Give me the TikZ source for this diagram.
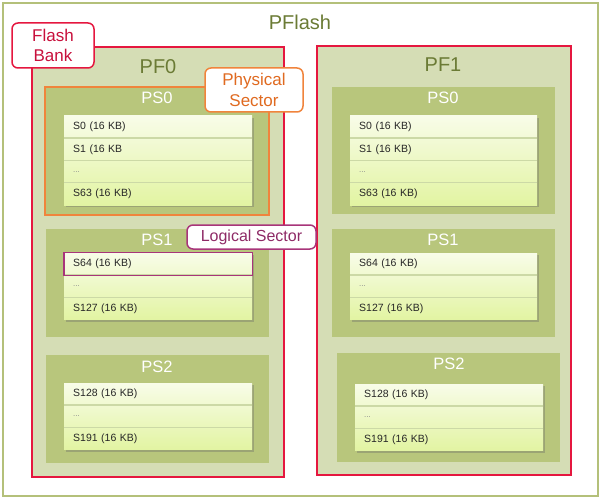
\documentclass[tikz,border=0pt]{standalone}
\usepackage{fontspec}
\setmainfont{Liberation Sans}
\usetikzlibrary{fit,shadows}
\definecolor{outerline}{HTML}{B4C07A}
\definecolor{pffill}{HTML}{D5DDB5}
\definecolor{psfill}{HTML}{B8C67C}
\definecolor{bankred}{HTML}{E5173F}
\definecolor{bankredtxt}{HTML}{C8103C}
\definecolor{physorange}{HTML}{F0843C}
\definecolor{physorangetxt}{HTML}{E06A20}
\definecolor{logpurple}{HTML}{A8357A}
\definecolor{logpurpletxt}{HTML}{8E2A66}
\definecolor{olivetxt}{HTML}{6B7B35}
\definecolor{tbltop}{HTML}{F8FCE8}
\definecolor{tblbot}{HTML}{E2F4A2}
\definecolor{divline}{HTML}{CCD9A6}
\definecolor{dotgray}{HTML}{8A8A8A}
\newcommand\ellip{\textcolor{dotgray}{\fontsize{8}{8}\selectfont...}}
% table: name, x1, y1, x2, nrows, list
\newcommand\sectbl[6]{%
  \pgfmathsetmacro\tblbottom{#3+#5*22.3}
  \pgfmathsetmacro\tw{#4-#2-18}
  \node[tbl, fit={(#2,#3)(#4,\tblbottom)}] (#1) {};
  \foreach \t [count=\i] in {#6} {
    \pgfmathsetmacro\yc{#3+(\i-0.5)*22.3}
    \node[rowbox, text width=\tw pt, anchor=west] (#1-\i) at (#2,\yc) {\t};
  }
  \foreach \i in {2,...,#5} {
    \draw[divider] (#1-\i.north west) -- (#1-\i.north east);
  }
}
\begin{document}
\begin{tikzpicture}[x=1pt,y=-1pt,
  outerbox/.style={draw=outerline, line width=2pt, fill=white, inner sep=0pt},
  pfbox/.style={draw=bankred, line width=2pt, fill=pffill, inner sep=0pt},
  psbox/.style={fill=psfill, inner sep=0pt},
  tbl/.style={inner sep=0pt, top color=tbltop, bottom color=tblbot,
    drop shadow={shadow xshift=1.5pt, shadow yshift=-2pt, opacity=0.35, fill=black!60}},
  rowbox/.style={inner xsep=9pt, inner ysep=0pt, minimum height=22.3pt, align=left,
    font=\fontsize{10.5}{12}\selectfont, text=black!85},
  divider/.style={draw=divline, line width=1.3pt},
  bigtitle/.style={text=olivetxt, font=\fontsize{20}{24}\selectfont},
  pslabel/.style={text=white, font=\fontsize{16.5}{20}\selectfont},
  callout/.style={rounded corners=6pt, fill=white, line width=1.5pt, inner sep=0pt, align=center},
]
\useasboundingbox (0,0) rectangle (600,500);
\node[outerbox, fit={(3,3)(598,496)}] (pflash) {};
\node[bigtitle] (pflashlbl) at (300,22) {PFlash};

% PF0
\node[pfbox, fit={(32,47)(284,477)}] (pf0) {};
\node[bigtitle] (pf0lbl) at (158,67) {PF0};
\node[psbox, draw=physorange, line width=2pt, fit={(45,87)(269,215)}] (pf0ps0) {};
\node[pslabel] (pf0ps0lbl) at (157,98) {PS0};
\sectbl{pf0t0}{64}{116}{252}{4}{S0 (16 KB), S1 (16 KB, \ellip, S63 (16 KB)}
\node[psbox, fit={(46,229)(269,337)}] (pf0ps1) {};
\node[pslabel] (pf0ps1lbl) at (157,240) {PS1};
\sectbl{pf0t1}{64}{253}{252}{3}{S64 (16 KB), \ellip, S127 (16 KB)}
\draw[draw=logpurple, line width=1.3pt] (pf0t1-1.north west) rectangle (pf0t1-1.south east);
\node[psbox, fit={(46,355)(269,463)}] (pf0ps2) {};
\node[pslabel] (pf0ps2lbl) at (157,367) {PS2};
\sectbl{pf0t2}{64}{383}{252}{3}{S128 (16 KB), \ellip, S191 (16 KB)}

% PF1
\node[pfbox, fit={(317,46)(571,475)}] (pf1) {};
\node[bigtitle] (pf1lbl) at (443,65) {PF1};
\node[psbox, fit={(332,87)(555,214)}] (pf1ps0) {};
\node[pslabel] (pf1ps0lbl) at (443,98) {PS0};
\sectbl{pf1t0}{350}{116}{537}{4}{S0 (16 KB), S1 (16 KB), \ellip, S63 (16 KB)}
\node[psbox, fit={(332,229)(555,337)}] (pf1ps1) {};
\node[pslabel] (pf1ps1lbl) at (443,240) {PS1};
\sectbl{pf1t1}{350}{253}{537}{3}{S64 (16 KB), \ellip, S127 (16 KB)}
\node[psbox, fit={(337,353)(560,462)}] (pf1ps2) {};
\node[pslabel] (pf1ps2lbl) at (449,364) {PS2};
\sectbl{pf1t2}{355}{384}{543}{3}{S128 (16 KB), \ellip, S191 (16 KB)}

% callouts
\node[callout, draw=bankred, text=bankredtxt, minimum width=82pt, minimum height=45pt,
  font=\fontsize{17}{20.5}\selectfont] (bankcall) at (53,45.5) {Flash\\Bank};
\node[callout, draw=physorange, text=physorangetxt, minimum width=98pt, minimum height=44pt,
  font=\fontsize{17}{20.5}\selectfont] (physcall) at (254,90) {Physical\\Sector};
\node[callout, draw=logpurple, text=logpurpletxt, minimum width=129pt, minimum height=24pt,
  font=\fontsize{16}{19}\selectfont] (logcall) at (251.5,237) {Logical Sector};
\end{tikzpicture}
\end{document}
